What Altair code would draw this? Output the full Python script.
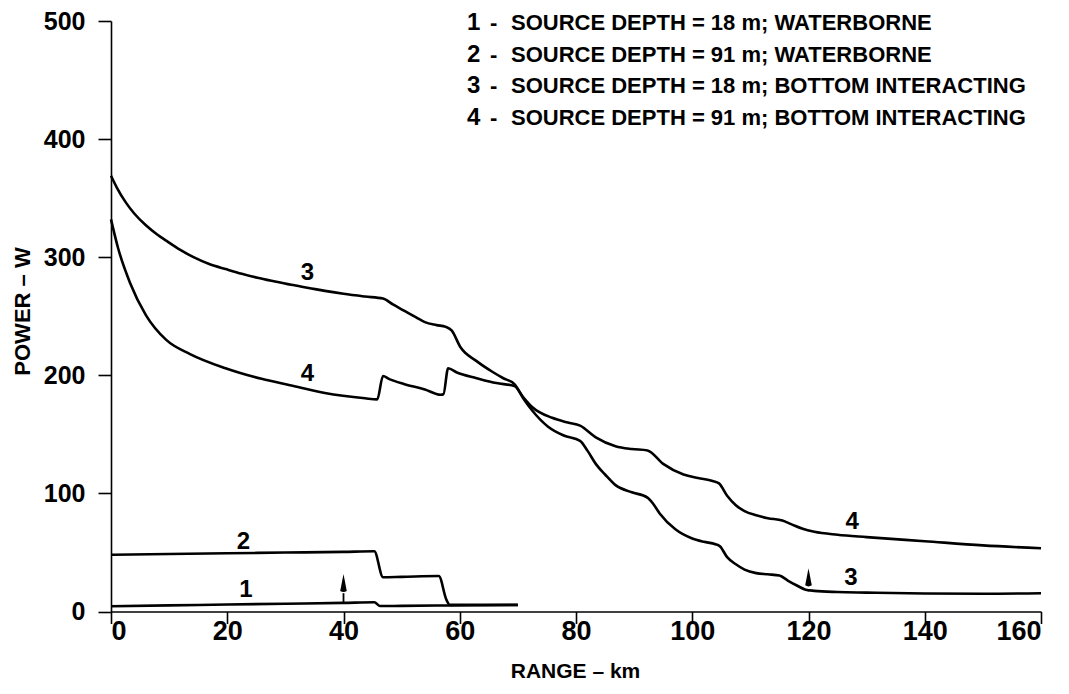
import altair as alt
import pandas as pd

# ---------------- data ----------------
# curve 1 : source depth 18 m, waterborne
x1 = [0, 10, 20, 30, 40, 45.3, 46.3, 50, 58, 64, 70]
y1 = [4.5, 5.2, 5.9, 6.6, 7.3, 7.8, 4.6, 4.8, 5.1, 5.3, 5.5]
# curve 2 : source depth 91 m, waterborne
x2 = [0, 10, 20, 30, 40, 45.3, 46.8, 50, 56.4, 57.7, 58.3, 64, 70]
y2 = [48, 48.7, 49.3, 49.9, 50.5, 51, 29, 29.3, 30, 10, 5.6, 5.6, 5.6]
# curve 3 : source depth 18 m, bottom interacting
x3 = [0, 1, 2.6, 4, 6, 8, 9.5, 12, 14.2, 17, 19.7, 22.5, 25.2, 28, 31, 34, 36.8, 40, 43.7, 46.8,
      48.5, 50.5, 52.5, 54, 56, 57.6, 58.6, 60.1, 62.9, 65.6, 67.5, 69.4, 71, 72.5, 75.2, 77.9,
      80.7, 82, 83.4, 85, 86.8, 89.6, 92.3, 93.3, 94.4, 97.1, 99.9, 102, 104, 104.8, 106, 107.5,
      109, 111, 113, 115, 116.5, 118, 119.5, 121, 125, 130, 140, 150, 160]
y3 = [369, 359, 346, 337, 327, 319, 314, 306, 300, 294, 290, 286, 282.6, 279.6, 276.6, 274, 271.5,
      269, 266.7, 265, 260, 254.5, 249, 245, 242.5, 241, 238, 224, 212, 203, 197.5, 192.5, 180,
      170, 156.5, 149, 144.5, 136, 125, 116, 107, 101, 96.4, 91, 83, 69.6, 62, 59, 57, 55, 46,
      40, 35.5, 32.5, 31.5, 30.5, 26, 22, 18.5, 17.5, 16.5, 16, 15.2, 15, 15.5]
# curve 4 : source depth 91 m, bottom interacting
x4 = [0, 1.2, 3.3, 6, 9.5, 13.6, 19.7, 25.9, 31.4, 36.8, 43.7, 45.8, 46.8, 47.8, 50.5, 54, 56.7,
      57.2, 58, 59.5, 62.9, 66.3, 69.4, 71, 72.5, 75.9, 78.6, 80.7, 83.4, 86.8, 89.6, 92.3, 95,
      98.5, 101, 103.5, 104.6, 106, 107.5, 109, 111, 113, 115.5, 117, 119, 121, 125, 130, 140,
      150, 160]
y4 = [332, 308, 278, 251, 230, 218, 206, 197, 191, 185, 180.5, 179.6, 199.4, 197, 192.5, 188,
      183.5, 184, 206, 202.4, 197.6, 193.4, 191, 181, 173, 164, 160, 157.4, 147.5, 140, 137.6,
      136.4, 125, 116, 113, 110.5, 108.5, 98, 90, 85, 81.5, 79, 77, 74, 70, 67.5, 65, 63, 59.5,
      56, 53.5]

# curve number labels drawn on the plot
lab_x = [23.2, 22.8, 33.8, 33.8, 127.5, 127.3]
lab_y = [18.6, 59, 287, 201.5, 76, 28.5]
lab_t = ["1", "2", "3", "4", "4", "3"]

# small arrows (range, tip value, base value, arrow-head base value)
arr_x = [40, 120]
arr_tip = [29.5, 35.5]
arr_base = [7.5, 17]
arr_head = [15.5, 19]

# legend entries
leg_num = ["1", "2", "3", "4"]
leg_txt = [
    "SOURCE DEPTH = 18 m; WATERBORNE",
    "SOURCE DEPTH = 91 m; WATERBORNE",
    "SOURCE DEPTH = 18 m; BOTTOM INTERACTING",
    "SOURCE DEPTH = 91 m; BOTTOM INTERACTING",
]

x_ticks = [0, 20, 40, 60, 80, 100, 120, 140, 160]
y_ticks = [0, 100, 200, 300, 400, 500]

# ---------------- tables ----------------
frames = []
for name, xs_, ys_ in [("1", x1, y1), ("2", x2, y2), ("3", x3, y3), ("4", x4, y4)]:
    frames.append(pd.DataFrame({"range": xs_, "power": ys_, "curve": name}))
lines_df = pd.concat(frames, ignore_index=True)

labels_df = pd.DataFrame({"range": lab_x, "power": lab_y, "t": lab_t})
arrows_df = pd.DataFrame({"range": arr_x, "tip": arr_tip, "base": arr_base, "head": arr_head})
arrows_df["mid"] = (arrows_df["tip"] + arrows_df["head"]) / 2
legend_df = pd.DataFrame({"num": leg_num, "txt": leg_txt, "i": list(range(4))})

W, H = 930, 590.5
FONT = "Liberation Sans"

xs = alt.Scale(domain=[0, 160], nice=False, zero=False)
ys = alt.Scale(domain=[0, 500], nice=False)

x_enc = alt.X(
    "range:Q", scale=xs,
    axis=alt.Axis(
        values=x_ticks, title="RANGE \u2013 km", format="d",
        labelFont=FONT, labelFontSize=27, labelFontWeight="bold", labelPadding=-5, tickSize=12,
        titleFont=FONT, titleFontSize=21, titleFontWeight="bold",
        titleX=464, titleY=66, titleBaseline="alphabetic", titleAnchor="middle",
    ),
)
y_enc = alt.Y(
    "power:Q", scale=ys,
    axis=alt.Axis(
        values=y_ticks, title="POWER \u2013 W", format="d",
        labelFont=FONT, labelFontSize=25, labelFontWeight="bold",
        labelPadding=13, tickSize=13,
        titleFont=FONT, titleFontSize=22, titleFontWeight="bold",
        titleX=-82, titleY=290, titleAngle=270, titleBaseline="alphabetic",
        titleAlign="center",
    ),
)

lines = alt.Chart(lines_df).mark_line(
    color="black", strokeWidth=2.6, interpolate="monotone", strokeJoin="round"
).encode(x=x_enc, y=y_enc, detail="curve:N")

labels = alt.Chart(labels_df).mark_text(
    font=FONT, fontSize=24, fontWeight="bold", color="black", baseline="middle", align="center"
).encode(x=alt.X("range:Q", scale=xs), y=alt.Y("power:Q", scale=ys), text="t:N")

arrow_rule = alt.Chart(arrows_df).mark_rule(color="black", strokeWidth=1.8).encode(
    x=alt.X("range:Q", scale=xs), y=alt.Y("base:Q", scale=ys), y2="head:Q"
)
arrow_head = alt.Chart(arrows_df).mark_point(
    shape="M0,-1 L0.3,0.55 Q0,0.75 -0.3,0.55 Z", filled=True, color="black", opacity=1,
    size=480,
).encode(x=alt.X("range:Q", scale=xs), y=alt.Y("mid:Q", scale=ys))

leg_base = alt.Chart(legend_df).transform_calculate(py="2 + datum.i * 31.7")
leg_num_mark = leg_base.mark_text(
    font=FONT, fontSize=24, fontWeight="bold", color="black", align="left", baseline="middle"
).encode(x=alt.value(356), y=alt.Y("py:Q", scale=None), text="num:N")
leg_dash = leg_base.mark_text(
    font=FONT, fontSize=22, fontWeight="bold", color="black", align="left", baseline="middle"
).encode(x=alt.value(379), y=alt.Y("py:Q", scale=None), text=alt.value("-"))
leg_txt_mark = leg_base.mark_text(
    font=FONT, fontSize=22, fontWeight="bold", color="black", align="left", baseline="middle"
).encode(x=alt.value(400), y=alt.Y("py:Q", scale=None), text="txt:N")

chart = alt.layer(
    lines, labels, arrow_rule, arrow_head, leg_num_mark, leg_dash, leg_txt_mark
).properties(
    width=W, height=H,
    autosize=alt.AutoSizeParams(type="none"),
    padding={"left": 103, "top": 13, "right": 20, "bottom": 74},
    background="white",
).configure_view(stroke=None).configure_axis(
    grid=False, domainColor="black", domainWidth=1.6, tickColor="black", tickWidth=1.6,
    labelColor="black", titleColor="black",
)

chart.save("out.html", embed_options={"renderer": "svg", "actions": False})
